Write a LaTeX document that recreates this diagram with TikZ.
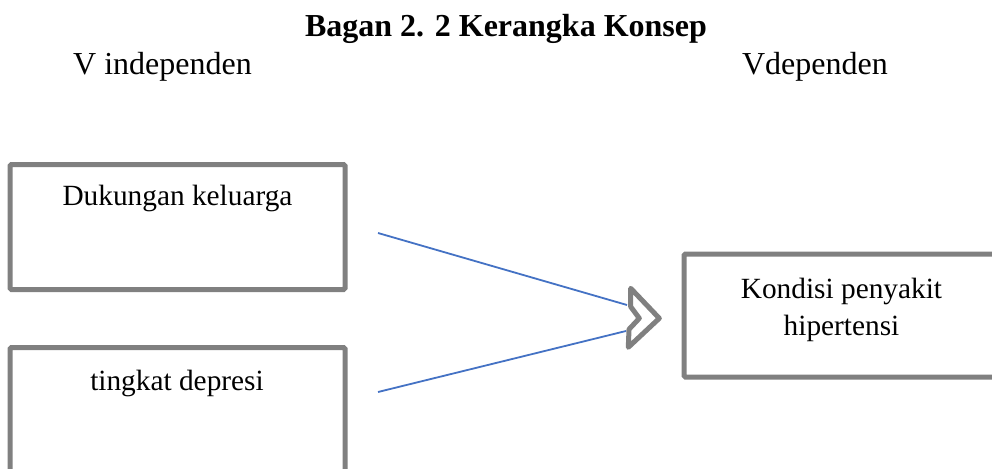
\documentclass[tikz,border=0pt]{standalone}
\usepackage{fontspec}
\setmainfont{Liberation Serif}
\definecolor{boxgray}{HTML}{808080}
\definecolor{lineblue}{HTML}{4472C4}
\tikzset{
  box/.style={draw=boxgray, line width=5pt, rounded corners=1.5pt, fill=white, inner sep=0pt},
  big/.style={font=\fontsize{32}{37}\selectfont, inner sep=0pt},
  small/.style={font=\fontsize{29.33}{37}\selectfont, inner sep=0pt, anchor=base},
  conn/.style={draw=lineblue, line width=1.8pt},
  chev/.style={draw=boxgray, line width=5pt, line join=round, fill=white}
}
\begin{document}
\begin{tikzpicture}[x=1pt,y=-1pt]
\useasboundingbox (0,0) rectangle (992,468);
% titles
\node[big, font=\fontsize{32}{37}\selectfont\bfseries, anchor=base] (title) at (506,37) {Bagan 2. 2 Kerangka Konsep};
\node[big, anchor=base west] (vind) at (73,75) {V independen};
\node[big, anchor=base east] (vdep) at (888,75) {Vdependen};
% boxes
\node[box, minimum width=335pt, minimum height=125pt] (b1) at (177.5,227) {};
\node[box, minimum width=335pt, minimum height=125pt] (b2) at (177.5,410) {};
\node[box, minimum width=315pt, minimum height=123pt] (b3) at (841.5,315.5) {};
\node[small] (t1) at (177.5,205) {Dukungan keluarga};
\node[small] (t2) at (177,390) {tingkat depresi};
\node[small] (t3) at (841.5,298) {Kondisi penyakit};
\node[small] (t4) at (841.5,335) {hipertensi};
% chevron
\coordinate (c1) at (630.7,288.3);
\coordinate (c2) at (659.3,318.3);
\coordinate (c3) at (628.3,347.3);
\coordinate (c4) at (629,329.3);
\coordinate (c5) at (639.3,318.3);
\coordinate (c6) at (630.7,306.7);
\draw[chev] (c1) -- (c2) -- (c3) -- (c4) -- (c5) -- (c6) -- cycle;
% connectors
\coordinate (s1) at (378,233);
\coordinate (e1) at (627,305);
\coordinate (s2) at (378,392);
\coordinate (e2) at (626,331);
\draw[conn] (s1) -- (e1);
\draw[conn] (s2) -- (e2);
\end{tikzpicture}
\end{document}
